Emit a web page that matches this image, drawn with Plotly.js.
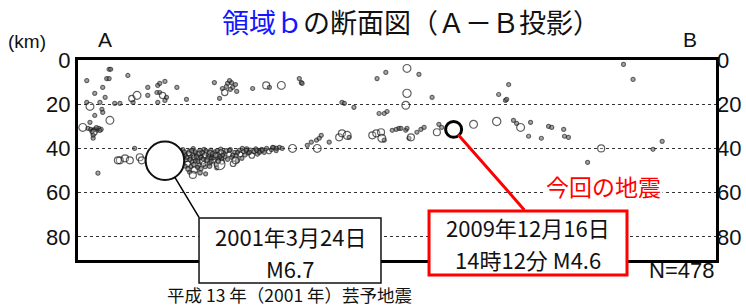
<!DOCTYPE html>
<html><head><meta charset="utf-8">
<script src="https://cdn.plot.ly/plotly-3.0.1.min.js"></script>
<style>html,body{margin:0;padding:0;background:#fff}#chart{width:746px;height:306px}</style>
</head><body><div id="chart"></div>
<script>
// distance along A-B (km), depth (km), magnitude
const depthTicks = [0, 20, 40, 60, 80];
const depthTickText = ['0', '20', '40', '60', '80'];

const shallowEvents = [
  [2.2,9.3,2],[7.2,8.4,2],[7.8,8.4,2],[12.5,7.0,2],[6.2,12.4,2],[4.2,15.1,2],[5.5,19.2,2],[2.2,19.2,2],
  [3.0,21.0,3.2],[6.8,16.9,2],[6.0,22.3,2],[6.2,23.7,2],[4.2,25.1,2],[8.0,27.3,3.2],[1.2,30.5,3.2],[3.0,28.2,2],
  [2.5,30.9,2],[3.2,31.4,2],[3.8,31.8,2],[4.2,31.4,2],[4.8,31.8,2],[5.2,30.9,2],[5.8,31.4,2],[3.5,32.3,2],
  [4.0,32.7,2.8],[3.8,34.1,2],[3.8,35.4,2],[9.2,19.6,2],[10.5,19.6,2],[13.8,19.2,2],[13.5,17.4,2.8],[14.8,16.0,3.2],
  [17.5,12.4,2],[17.5,16.0,2],[20.0,11.5,2],[20.5,10.6,2],[21.8,9.7,2],[19.8,14.7,2],[20.5,14.7,2],[21.2,16.0,2.8],
  [22.2,16.9,2],[21.8,18.3,2],[20.0,19.2,2],[24.8,12.4,2],[27.2,17.8,2],[34.2,10.2,2],[35.5,17.4,2],[36.2,12.9,2],
  [36.8,14.7,2.8],[37.5,10.6,2],[38.5,10.2,2],[38.8,12.4,2],[38.0,9.3,2],[39.5,11.1,2],[39.8,14.2,2],[43.8,12.9,2],
  [47.2,11.5,3.0],[48.0,12.4,2],[51.0,11.5,3.2],[55.5,8.4,2],[56.0,10.2,2],[56.2,10.6,2],[75.0,8.4,2],[77.2,5.6,2],
  [82.5,3.8,3.2],[82.5,15.1,3.3],[66.2,19.2,2],[66.8,19.6,2],[69.2,21.4,2],[82.2,20.5,3.2],[75.5,24.2,2],[76.8,24.2,2],
  [77.5,23.3,2],[85.5,6.5,2],[88.8,16.9,2],[108.0,11.1,2],[105.5,15.6,2],[107.2,18.3,2],[107.5,17.8,2],[136.8,2.0,2],
  [139.2,8.8,2],[5.0,51.2,2],[7.8,4.2,2],[8.2,4.2,2],[4.6,30.6,2],[5.5,31.9,2],[37.2,12.0,2],[38.2,13.3,2]
];

const deepBandWest = [
  [14.2,40.0,2],[10.5,45.4,3.0],[11.8,44.5,3.0],[13.0,45.4,3.0],[15.5,44.0,3.0],[16.0,45.4,3.0],[10.0,45.4,3.0]
];

const deepCluster = [
  [26.3,40.5,2],[26.8,42.8,2.4],[27.1,45.2,2],[27.5,47.0,2.6],[27.9,41.3,2],[28.3,43.9,2.2],[28.6,46.1,2],[28.9,40.1,2],
  [29.2,49.8,2.8],[29.6,42.4,2],[29.9,44.7,2.4],[30.3,47.6,2],[30.6,41.0,2.2],[31.0,43.3,2],[31.2,45.8,2.6],[31.6,40.4,2],
  [31.9,48.3,2],[32.3,42.1,2.4],[32.6,44.2,2],[33.0,46.6,2.2],[33.3,40.8,2],[33.7,43.5,2],[34.0,45.3,2.6],[34.4,41.6,2],
  [34.7,47.3,2],[35.1,42.8,2.2],[35.4,44.6,2],[35.8,40.3,2],[36.1,46.0,2.4],[36.5,42.0,2],[36.8,43.9,2],[37.2,41.1,2.2],
  [37.5,45.0,2],[37.9,42.6,2.4],[38.2,40.5,2],[38.6,44.1,2],[38.9,46.9,2.6],[39.3,41.8,2],[39.6,43.4,2.2],[40.0,45.6,2],
  [40.4,40.9,2],[40.7,42.7,2.4],[41.1,44.5,2],[41.5,41.4,2],[41.9,43.0,2],[42.3,40.3,2.2],[42.7,42.1,2],[43.2,40.8,2],
  [43.6,43.2,2.6],[44.1,41.5,2],[44.6,40.2,2],[45.0,42.6,2],[45.6,41.1,2.2],[46.1,40.4,2],[46.7,41.8,2],[47.3,40.0,2],
  [47.9,41.3,2.4],[48.5,40.6,2],[49.1,39.6,2],[49.7,41.0,2],[28.0,50.8,2],[30.8,49.2,2.2],[34.8,48.8,2],[32.0,51.5,2],
  [35.5,47.2,3.8],[28.8,52.0,3.0],[26.0,44.0,3.0],[25.5,46.5,2.8],[27.0,43.0,2],[29.5,45.5,2.2],[33.5,44.5,2],[36.0,44.5,2.2],
  [26.6,41.7,2.2],[27.3,44.1,2],[27.8,42.2,2.4],[28.1,45.0,2],[28.5,41.0,2.2],[28.8,43.2,2],[29.1,44.0,2.4],[29.4,41.6,2],
  [29.8,43.6,2.2],[30.1,45.9,2],[30.4,42.3,2.4],[30.8,44.1,2],[31.1,42.0,2.2],[31.4,44.8,2],[31.8,43.1,2.4],[32.1,41.1,2],
  [32.4,45.3,2.2],[32.8,43.0,2],[33.1,41.9,2.4],[33.4,45.9,2],[33.8,42.4,2.2],[34.1,44.2,2],[34.5,43.1,2.4],[34.9,41.0,2],
  [35.2,45.7,2.2],[35.6,43.6,2],[35.9,41.7,2.4],[36.3,43.0,2],[29.0,47.3,2.2],[30.0,48.6,2],[31.5,47.0,2.4],[33.0,48.0,2.2],
  [28.3,48.2,2],[27.6,49.3,2.2],[26.9,48.0,2],[30.6,51.0,2.2]
];

const deepBandEast = [
  [38.0,40.9,2],[38.8,43.1,2],[39.5,45.4,3.0],[40.0,41.8,2],[41.2,40.0,2],[42.2,40.9,2],[43.0,41.8,2],[44.8,40.9,2],
  [45.5,41.8,2],[46.2,40.9,2],[48.8,39.5,2],[49.8,40.0,2],[50.5,39.5,2],[51.2,40.0,2],[53.8,40.0,3.2],[57.5,38.6,2],
  [58.5,37.2,2],[59.8,36.3,2],[60.5,35.4,2],[61.0,34.1,2],[60.0,40.0,3.2],[63.0,37.2,2],[65.5,35.0,3.0],[66.2,33.2,3.0],
  [67.5,34.1,3.2],[68.0,35.0,2],[73.8,34.1,3.0],[74.8,33.2,3.0],[76.0,32.7,3.0],[76.2,35.4,3.2],[76.8,36.3,2],[78.8,31.8,2],
  [79.8,31.4,2],[80.5,30.9,2],[82.2,31.8,2],[83.0,35.4,2],[81.0,30.9,2],[82.5,30.9,2],[83.5,35.0,3.0],[85.0,32.7,2],
  [86.0,31.4,2],[86.8,30.5,2],[90.0,32.7,3.0],[90.5,29.1,2],[91.2,30.5,2],[99.2,29.1,3.2],[105.0,27.8,3.3],[109.2,27.3,2],
  [110.0,28.7,2],[111.0,30.5,3.2],[113.5,28.2,2],[113.0,34.5,2],[116.2,35.4,2],[118.0,30.0,2],[118.8,30.5,2],[121.8,31.4,2],
  [122.0,34.5,2],[123.0,35.0,2],[131.2,40.0,3.0],[127.8,46.3,2],[144.2,40.4,2],[146.5,36.8,2]
];

const mainshock2001 = [21.8, 45.6, 6.7];
const event2009 = [94.2, 31.4, 4.6];

const label2001 = ['2001年3月24日', 'M6.7'];
const label2009 = ['2009年12月16日', '14時12分 M4.6'];
const eqCount = 'N=478';

function sz(m) { return 3 + (m - 1) * (m - 1); }

const others = shallowEvents.concat(deepBandWest, deepCluster, deepBandEast);

const traces = [
  {
    x: others.map(p => p[0]), y: others.map(p => p[1]),
    mode: 'markers', type: 'scatter', hoverinfo: 'none',
    marker: {
      size: others.map(p => sz(p[2])),
      color: others.map(p => p[2] <= 2.2 ? 'rgba(110,110,110,0.85)' : 'rgba(255,255,255,0.35)'),
      line: { color: '#1e1e1e', width: 1.2 }
    }
  },
  {
    x: [mainshock2001[0]], y: [mainshock2001[1]],
    mode: 'markers', type: 'scatter', hoverinfo: 'none',
    marker: { size: sz(mainshock2001[2]) + 3, color: '#ffffff', line: { color: '#111', width: 2 } }
  },
  {
    x: [event2009[0]], y: [event2009[1]],
    mode: 'markers', type: 'scatter', hoverinfo: 'none',
    marker: { size: sz(event2009[2]), color: '#ffffff', line: { color: '#000', width: 3 } }
  },
  { x: [0], y: [0], yaxis: 'y2', mode: 'markers', marker: { opacity: 0 }, hoverinfo: 'none' }
];

const sans = 'Liberation Sans, Arial, sans-serif';
const tickFont = { family: sans, size: 22, color: '#111' };
const jp = 'Noto Sans CJK JP, sans-serif';
const boxFont = { family: jp, size: 22, color: '#111' };

function pTxt(x, y, text, font, extra) {
  return Object.assign({ xref: 'paper', yref: 'paper', x: x, y: y, xanchor: 'center', yanchor: 'middle',
    text: text, showarrow: false, font: font }, extra || {});
}

const layout = {
  width: 746, height: 306,
  margin: { l: 78, r: 30, t: 60, b: 46 },
  paper_bgcolor: '#fff', plot_bgcolor: '#fff',
  showlegend: false,
  title: {
    text: '<span style="color:#1414ff">領域ｂ</span>の断面図（Ａ－Ｂ投影）',
    x: 0.551, xanchor: 'center', y: 0.922, yanchor: 'middle',
    font: { family: jp, size: 27, color: '#111' }
  },
  xaxis: {
    range: [0, 160], showgrid: false, zeroline: false, showticklabels: false, ticks: '',
    showline: true, linewidth: 3, linecolor: '#000', mirror: true, fixedrange: true
  },
  yaxis: {
    range: [90.5, 0], tickvals: depthTicks, ticktext: depthTickText, ticks: '',
    showgrid: true, gridcolor: '#333', griddash: 'dot', gridwidth: 1.3, zeroline: false,
    showline: true, linewidth: 3, linecolor: '#000', mirror: true, tickfont: tickFont, fixedrange: true
  },
  yaxis2: {
    overlaying: 'y', side: 'right', range: [90.5, 0], tickvals: depthTicks, ticktext: depthTickText, ticks: '',
    showgrid: false, zeroline: false, showline: false, tickfont: tickFont, fixedrange: true
  },
  shapes: [
    { type: 'rect', layer: 'above', xref: 'paper', yref: 'paper', x0: 0.1897, x1: 0.4749, y0: -0.115, y1: 0.21,
      fillcolor: '#fff', line: { color: '#111', width: 1.5 } },
    { type: 'rect', layer: 'above', xref: 'paper', yref: 'paper', x0: 0.5502, x1: 0.8605, y0: -0.075, y1: 0.245,
      fillcolor: '#fff', line: { color: '#ff0000', width: 3 } }
  ],
  annotations: [
    { xref: 'x', yref: 'y', x: mainshock2001[0], y: mainshock2001[1], text: '', showarrow: true,
      arrowhead: 0, arrowwidth: 1.5, arrowcolor: '#000', ax: 35, ay: 58, standoff: 19 },
    { xref: 'x', yref: 'y', x: event2009[0], y: event2009[1], text: '', showarrow: true,
      arrowhead: 0, arrowwidth: 3, arrowcolor: '#ff0000', ax: 72, ay: 82, standoff: 7 },
    pTxt(0.3323, 0.12, label2001[0], boxFont),
    pTxt(0.3323, -0.04, label2001[1], boxFont),
    pTxt(0.7053, 0.165, label2009[0], boxFont),
    pTxt(0.7053, 0.005, label2009[1], boxFont),
    { xref: 'x', yref: 'y', x: 131.75, y: 57.1, xanchor: 'center', yanchor: 'middle', text: '今回の地震',
      showarrow: false, font: { family: jp, size: 23, color: '#ff0000' }, bgcolor: '#fff' },
    pTxt(1.0, -0.05, eqCount, { family: sans, size: 22, color: '#111' }, { xanchor: 'right' }),
    pTxt(0.331, -0.17, '平成 13 年（2001 年）芸予地震', { family: jp, size: 17.5, color: '#111' }),
    pTxt(-0.08, 1.09, '(km)', { family: sans, size: 19, color: '#111' }),
    pTxt(0.0423, 1.1, 'A', { family: sans, size: 21, color: '#111' }),
    pTxt(0.959, 1.1, 'B', { family: sans, size: 21, color: '#111' })
  ]
};

Plotly.newPlot('chart', traces, layout, { displayModeBar: false, staticPlot: true });
</script>
</body></html>
